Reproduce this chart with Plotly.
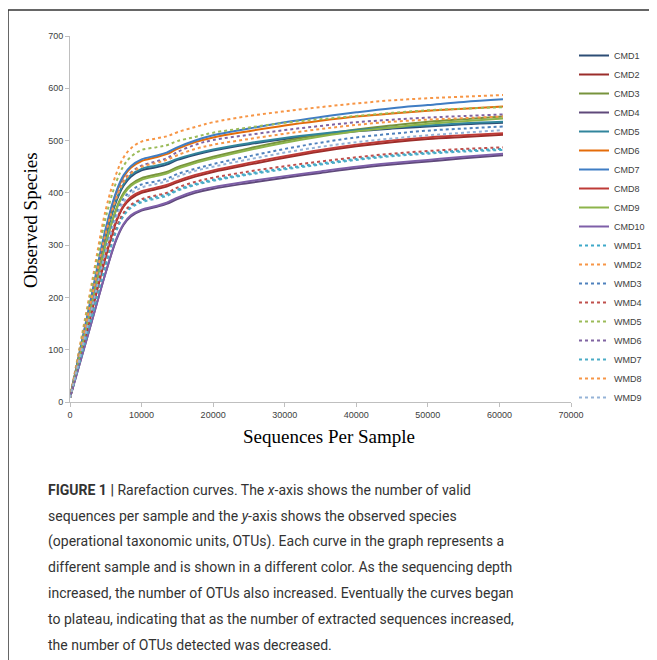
import plotly.graph_objects as go

# Sequences per sample (x positions of the rarefaction steps)
seq_depth = [0, 3000, 5000, 6500, 7500, 8500, 10000, 12000, 13500, 15000, 17500,
             20000, 25000, 30000, 35000, 40000, 45000, 50000, 55000, 60500]

# Observed species per sample
CMD1 = [8, 194, 318, 385, 414, 431, 443, 449, 454, 463, 473, 481, 493, 503, 511, 518, 523, 527, 531, 534]
CMD2 = [8, 170, 278, 346, 374, 389, 400, 407, 412, 420, 431, 440, 454, 467, 479, 489, 497, 503, 507, 511]
CMD3 = [8, 185, 303, 371, 400, 416, 428, 435, 440, 449, 460, 469, 485, 499, 511, 521, 529, 536, 541, 546]
CMD4 = [8, 152, 248, 311, 339, 355, 366, 373, 379, 388, 400, 408, 419, 429, 438, 447, 454, 460, 466, 472]
CMD5 = [8, 194, 318, 388, 417, 434, 446, 452, 457, 465, 475, 483, 495, 505, 513, 520, 525, 529, 533, 536]
CMD6 = [8, 200, 328, 401, 431, 448, 461, 468, 474, 484, 497, 506, 518, 529, 538, 546, 552, 557, 561, 565]
CMD7 = [8, 203, 333, 404, 434, 451, 464, 471, 477, 487, 500, 510, 523, 535, 545, 554, 562, 568, 574, 579]
CMD8 = [8, 173, 283, 349, 376, 392, 403, 410, 415, 423, 434, 443, 457, 470, 482, 492, 500, 506, 510, 514]
CMD9 = [8, 185, 303, 369, 397, 413, 425, 432, 437, 446, 457, 466, 482, 496, 508, 518, 525, 532, 537, 542]
CMD10 = [8, 152, 248, 313, 341, 357, 368, 375, 381, 391, 403, 411, 422, 432, 441, 450, 457, 463, 469, 475]
WMD1 = [8, 161, 263, 331, 359, 374, 385, 392, 397, 406, 417, 425, 437, 447, 456, 465, 472, 477, 481, 484]
WMD2 = [8, 224, 368, 438, 468, 485, 498, 504, 508, 516, 526, 535, 547, 556, 564, 571, 577, 581, 584, 587]
WMD3 = [8, 179, 293, 361, 389, 404, 416, 422, 427, 436, 446, 455, 470, 484, 496, 506, 513, 519, 523, 527]
WMD4 = [8, 164, 268, 334, 362, 377, 388, 395, 400, 410, 421, 429, 441, 451, 460, 468, 475, 480, 484, 487]
WMD5 = [8, 215, 353, 422, 452, 469, 482, 487, 491, 499, 507, 515, 525, 534, 541, 547, 553, 558, 561, 564]
WMD6 = [8, 197, 323, 393, 423, 439, 452, 460, 466, 478, 492, 501, 511, 520, 528, 535, 540, 544, 547, 550]
WMD7 = [8, 161, 263, 328, 356, 371, 382, 389, 394, 404, 415, 423, 435, 445, 454, 463, 470, 475, 479, 482]
WMD8 = [8, 197, 323, 391, 421, 437, 450, 457, 463, 472, 484, 492, 503, 513, 522, 530, 536, 540, 543, 546]
WMD9 = [8, 176, 288, 355, 383, 398, 410, 417, 422, 431, 442, 450, 464, 477, 488, 497, 504, 510, 515, 520]

sample_names = ["CMD1", "CMD2", "CMD3", "CMD4", "CMD5", "CMD6", "CMD7", "CMD8", "CMD9", "CMD10",
                "WMD1", "WMD2", "WMD3", "WMD4", "WMD5", "WMD6", "WMD7", "WMD8", "WMD9"]
sample_values = [CMD1, CMD2, CMD3, CMD4, CMD5, CMD6, CMD7, CMD8, CMD9, CMD10,
                 WMD1, WMD2, WMD3, WMD4, WMD5, WMD6, WMD7, WMD8, WMD9]
sample_colors = ["#2C4D75", "#9B2D2A", "#77933C", "#5F497A", "#31859C", "#E46C0A", "#3F7DC4",
                 "#BE3B37", "#8DB44B", "#7E5FA8",
                 "#3FA9C9", "#F79646", "#4F81BD", "#C0504D", "#9BBB59", "#8064A2", "#4BACC6",
                 "#F79646", "#95B3D7"]

x_ticks = [0, 10000, 20000, 30000, 40000, 50000, 60000, 70000]
y_ticks = [0, 100, 200, 300, 400, 500, 600, 700]

caption_lines = [
    "<b>FIGURE 1 |</b> Rarefaction curves. The <i>x</i>-axis shows the number of valid",
    "sequences per sample and the <i>y</i>-axis shows the observed species",
    "(operational taxonomic units, OTUs). Each curve in the graph represents a",
    "different sample and is shown in a different color. As the sequencing depth",
    "increased, the number of OTUs also increased. Eventually the curves began",
    "to plateau, indicating that as the number of extracted sequences increased,",
    "the number of OTUs detected was decreased.",
]

fig = go.Figure()
for name, vals, col in zip(sample_names, sample_values, sample_colors):
    dotted = name.startswith("WMD")
    fig.add_trace(go.Scatter(
        x=seq_depth, y=vals, name=name, mode="lines",
        line=dict(color=col, width=2, dash="dot" if dotted else "solid",
                  shape="spline", smoothing=1.0),
    ))

# page has an 8px body margin: figure starts at page (8, 8)
OFF = 8
W, H = 657 - OFF, 660 - OFF
PL, PR, PT, PB = 70, 652, 36, 402        # paper area in page pixels
AX_R = 571                                # right end of the x axis in page pixels


def fx(px):
    return (px - PL) / (PR - PL)


def fy(py):
    return (PB - py) / (PB - PT)


fig.update_layout(
    width=W, height=H,
    margin=dict(l=PL - OFF, r=W - (PR - OFF), t=PT - OFF, b=H - (PB - OFF), pad=0, autoexpand=False),
    paper_bgcolor="white", plot_bgcolor="white",
    showlegend=True,
    legend=dict(x=fx(574), y=fy(224), xanchor="left", yanchor="middle",
                font=dict(family="Liberation Sans", size=9, color="#404040"),
                itemwidth=30, bgcolor="rgba(0,0,0,0)", tracegroupgap=0),
    xaxis=dict(domain=[0, fx(AX_R)], range=[0, 70000], tickvals=x_ticks,
               ticktext=[str(v) for v in x_ticks],
               showgrid=False, zeroline=False, showline=True, linecolor="#BFBFBF",
               linewidth=1, ticks="outside", ticklen=4, tickcolor="#BFBFBF",
               tickfont=dict(family="Liberation Sans", size=9, color="#404040")),
    yaxis=dict(range=[0, 700], tickvals=y_ticks, ticktext=[str(v) for v in y_ticks],
               showgrid=False, zeroline=False, showline=True, linecolor="#BFBFBF",
               linewidth=1, ticks="outside", ticklen=4, tickcolor="#BFBFBF",
               tickfont=dict(family="Liberation Sans", size=9, color="#404040")),
)

annotations = [
    dict(text="Observed Species", xref="paper", yref="paper",
         x=fx(30), y=fy(220), textangle=-90,
         showarrow=False, xanchor="center", yanchor="middle",
         font=dict(family="Liberation Serif", size=19, color="#000000")),
    dict(text="Sequences Per Sample", xref="paper", yref="paper",
         x=fx(329), y=fy(436),
         showarrow=False, xanchor="center", yanchor="middle",
         font=dict(family="Liberation Serif", size=19, color="#000000")),
]
for i, line in enumerate(caption_lines):
    yc = 490 + 25.8 * i
    annotations.append(dict(
        text=line, xref="paper", yref="paper",
        x=fx(46), y=fy(yc),
        showarrow=False, xanchor="left", yanchor="middle", align="left",
        font=dict(family="Roboto", size=14, color="#333333")))
fig.update_layout(annotations=annotations)

# figure frame (extends beyond the picture on the right and bottom)
fig.add_shape(type="line", xref="paper", yref="paper",
              x0=fx(8), x1=fx(8), y0=fy(10), y1=fy(670),
              line=dict(color="#333333", width=1.5))
fig.add_shape(type="line", xref="paper", yref="paper",
              x0=fx(8), x1=fx(670), y0=fy(10), y1=fy(10),
              line=dict(color="#333333", width=1.5))

fig.write_html("out.html")
